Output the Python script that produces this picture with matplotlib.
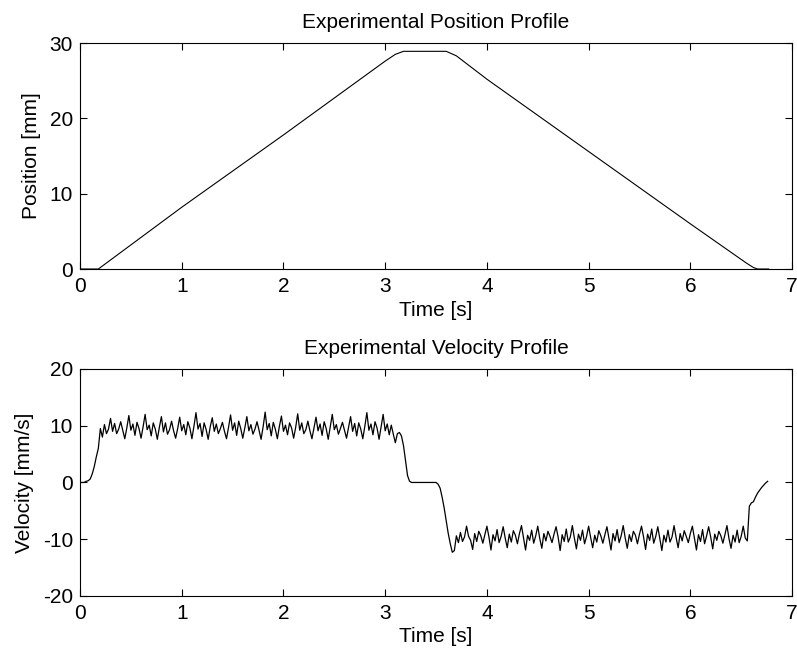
import matplotlib
matplotlib.use("Agg")
import matplotlib.pyplot as plt
import numpy as np

# position profile breakpoints, time [s] and position [mm]
pos_time = [0.0, 0.05, 0.18, 1.0, 2.0, 3.0, 3.1, 3.18, 3.6, 3.7,
            4.0, 5.0, 6.0, 6.55, 6.62, 6.66, 6.77]
pos_mm = [0.0, 0.0, 0.0, 8.2, 17.8, 27.6, 28.5, 28.9, 28.9, 28.3,
          25.2, 15.6, 6.0, 0.8, 0.2, 0.0, 0.0]

# velocity samples [mm/s], one every 0.02 s starting at t = 0
vel_step = 0.02
vel_mms = [
    # start-up
    0.0, 0.0, 0.0, 0.2, 0.3, 0.6, 1.5, 2.8, 4.5, 6.0, 9.5, 8.0, 10.2, 8.6, 9.4,
    # forward travel
    11.3, 9.0, 10.4, 8.6, 9.4, 10.7, 9.2, 7.7, 9.6,
    11.8, 9.2, 10.3, 8.3, 10.6, 9.5, 7.8, 9.8,
    12.0, 9.3, 10.1, 8.2, 10.5, 9.4, 7.6, 9.7,
    11.6, 8.9, 10.5, 8.5, 9.3, 10.8, 9.1, 7.8, 9.5,
    11.5, 9.1, 10.2, 8.4, 10.7, 9.6, 7.7, 9.9,
    12.3, 9.4, 10.4, 8.1, 10.5, 9.3, 7.6, 9.8,
    11.4, 9.0, 10.3, 8.6, 9.5, 10.6, 9.0, 7.7, 9.7,
    11.9, 9.2, 10.5, 8.3, 10.8, 9.5, 7.8, 9.6,
    11.6, 9.1, 10.2, 8.5, 9.4, 10.7, 9.2, 7.6, 9.8,
    12.4, 9.3, 10.4, 8.2, 10.6, 9.4, 7.7, 9.9,
    11.7, 9.0, 10.1, 8.4, 10.5, 9.6, 7.8, 9.7,
    12.1, 9.2, 10.5, 8.6, 9.3, 10.8, 9.1, 7.7, 9.6,
    11.5, 9.1, 10.3, 8.3, 10.7, 9.5, 7.6, 9.8,
    12.0, 9.3, 10.2, 8.5, 9.5, 10.6, 9.2, 7.8, 9.7,
    11.6, 9.0, 10.4, 8.2, 10.5, 9.4, 7.7, 9.9,
    12.3, 9.2, 10.3, 8.4, 10.7, 9.6, 7.6, 9.8,
    12.0, 9.1, 10.3, 8.4, 10.1, 8.5, 7.0, 8.6, 8.8, 8.2,
    # slow down and dwell
    6.5, 3.8, 1.2, 0.2,
    0.0, 0.0, 0.0, 0.0, 0.0, 0.0, 0.0, 0.0, 0.0, 0.0, 0.0, 0.0, 0.0,
    -0.3, -1.0, -2.6, -4.5, -6.8, -9.0, -10.8, -12.3, -12.0,
    -9.4, -10.6, -8.8, -10.4, -9.6, -7.7, -9.5, -10.2,
    # return travel
    -11.8, -9.0, -10.4, -8.6, -9.4, -10.7, -9.2, -7.7, -9.6,
    -11.9, -9.2, -10.3, -8.3, -10.6, -9.5, -7.8, -9.8,
    -11.5, -9.1, -10.5, -8.5, -9.3, -10.8, -9.0, -7.6, -9.7,
    -11.9, -9.3, -10.2, -8.4, -10.7, -9.4, -7.7, -9.9,
    -11.6, -9.0, -10.3, -8.6, -9.5, -10.6, -9.1, -7.8, -9.6,
    -12.0, -9.2, -10.4, -8.2, -10.5, -9.6, -7.6, -9.8,
    -11.7, -9.1, -10.2, -8.4, -10.8, -9.5, -7.7, -9.7,
    -11.5, -9.3, -10.5, -8.5, -9.4, -10.7, -9.2, -7.8, -9.9,
    -11.9, -9.0, -10.3, -8.3, -10.6, -9.4, -7.6, -9.8,
    -11.6, -9.2, -10.4, -8.6, -9.3, -10.8, -9.1, -7.7, -9.6,
    -11.8, -9.1, -10.2, -8.2, -10.7, -9.5, -7.8, -9.9,
    -12.0, -9.3, -10.5, -8.4, -10.5, -9.6, -7.6, -9.7,
    -11.5, -9.0, -10.3, -8.5, -9.5, -10.6, -9.0, -7.7, -9.8,
    -11.9, -9.2, -10.4, -8.3, -10.8, -9.4, -7.8, -9.6,
    -11.7, -9.1, -10.2, -8.6, -9.4, -10.7, -9.2, -7.6, -9.9,
    -11.6, -9.3, -10.5, -8.4, -10.6, -9.5, -7.7, -9.8,
    # stop
    -10.3, -4.2, -3.6, -3.4, -2.6, -1.9, -1.4, -0.9, -0.5, -0.1, 0.2,
]

x_ticks = [0, 1, 2, 3, 4, 5, 6, 7]
pos_ticks = [0, 10, 20, 30]
vel_ticks = [-20, -10, 0, 10, 20]

plt.rcParams["font.family"] = ["Liberation Sans", "DejaVu Sans"]
plt.rcParams["font.size"] = 15
plt.rcParams["axes.unicode_minus"] = False

fig = plt.figure(figsize=(7.97, 6.60), dpi=100)
ax1 = fig.add_axes([0.1004, 0.5924, 0.8934, 0.3424])
ax2 = fig.add_axes([0.1004, 0.0970, 0.8934, 0.3440])

vel_time = np.arange(len(vel_mms)) * vel_step

ax1.plot(pos_time, pos_mm, color="k", lw=0.8)
ax2.plot(vel_time, vel_mms, color="k", lw=0.9)

ax1.set_ylim(0, 30)
ax1.set_yticks(pos_ticks)
ax1.set_ylabel("Position [mm]", labelpad=6)
ax1.set_title("Experimental Position Profile", fontsize=15, pad=11)

ax2.set_ylim(-20, 20)
ax2.set_yticks(vel_ticks)
ax2.set_ylabel("Velocity [mm/s]", labelpad=6)
ax2.set_title("Experimental Velocity Profile", fontsize=15, pad=11)

for ax in (ax1, ax2):
    ax.set_xlim(0, 7)
    ax.set_xticks(x_ticks)
    ax.set_xlabel("Time [s]", labelpad=3)
    ax.tick_params(direction="in", top=True, right=True, length=5,
                   width=0.8, pad=6)
    ax.tick_params(axis="y", pad=5)
    for s in ax.spines.values():
        s.set_linewidth(0.8)

fig.savefig("out.png", dpi=100)
